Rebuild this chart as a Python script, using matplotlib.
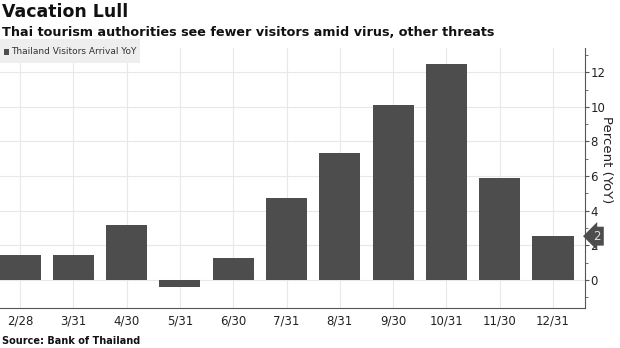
import matplotlib
matplotlib.use("Agg")
import matplotlib.pyplot as plt
from matplotlib.ticker import MultipleLocator
from matplotlib.patches import Rectangle

categories = ["2/28", "3/31", "4/30", "5/31", "6/30", "7/31", "8/31", "9/30", "10/31", "11/30", "12/31"]
values = [1.45, 1.45, 3.17, -0.38, 1.28, 4.75, 7.33, 10.1, 12.48, 5.9, 2.53]
series_name = "Thailand Visitors Arrival YoY"
last_label = "2"

plt.rcParams['font.family'] = ['DejaVu Sans']
fig = plt.figure(figsize=(6.2, 3.48), dpi=100)
ax = fig.add_axes([0.0, 1 - 308/348, 585/620, (308 - 48)/348])

bar_color = "#4d4d4d"
x = list(range(len(categories)))
ax.bar(x, values, width=0.77, color=bar_color, zorder=3)

ax.set_xlim(-0.375, 10.6)
ax.set_ylim(-1.62, 13.4)
ax.set_xticks(x)
ax.set_xticklabels(categories, fontsize=8.5, color="#222222")
ax.yaxis.tick_right()
ax.yaxis.set_major_locator(MultipleLocator(2))
ax.yaxis.set_minor_locator(MultipleLocator(1))
ax.tick_params(axis='y', which='major', labelsize=8.5, length=3, color="#555555", labelcolor="#222222", pad=1)
ax.tick_params(axis='y', which='minor', length=2, color="#555555")
ax.tick_params(axis='x', length=0, pad=5)
ax.grid(True, which='major', color="#e8e8e8", linewidth=0.8, zorder=0)
for s in ["top", "left"]:
    ax.spines[s].set_visible(False)
ax.spines["right"].set_color("#555555")
ax.spines["bottom"].set_color("#555555")
ax.spines["right"].set_linewidth(0.8)
ax.spines["bottom"].set_linewidth(0.8)

fig.text(606/620, 1 - 160/348, "Percent (YoY)", rotation=270, fontsize=9.5,
         ha="center", va="center", color="#222222")

# last value tag
ax.annotate(last_label, xy=(1.0, values[-1]), xycoords=("axes fraction", "data"),
            xytext=(6, 0), textcoords="offset points", ha="left", va="center",
            fontsize=8.5, color="#dddddd",
            bbox=dict(boxstyle="larrow,pad=0.25", fc="#4d4d4d", ec="none"),
            annotation_clip=False, zorder=10)

fig.text(0.003, 0.965, "Vacation Lull", fontsize=12.5, fontweight="bold", ha="left", va="center", color="#111111")
fig.text(0.003, 0.908, "Thai tourism authorities see fewer visitors amid virus, other threats",
         fontsize=9.2, fontweight="bold", ha="left", va="center", color="#111111")
fig.text(0.003, 0.02, "Source: Bank of Thailand", fontsize=7, fontweight="bold", ha="left", va="center", color="#111111")

# legend box
fig.patches.append(Rectangle((0, 1 - 63/348), 140/620, 24/348, transform=fig.transFigure,
                             fc="#eeeeee", ec="none", zorder=5))
fig.patches.append(Rectangle((4/620, 1 - 55/348), 5/620, 6/348, transform=fig.transFigure,
                             fc=bar_color, ec="none", zorder=6))
fig.text(11/620, 1 - 51.5/348, series_name, fontsize=6.5, ha="left", va="center", color="#333333", zorder=7)

fig.savefig("out.png", dpi=100)
